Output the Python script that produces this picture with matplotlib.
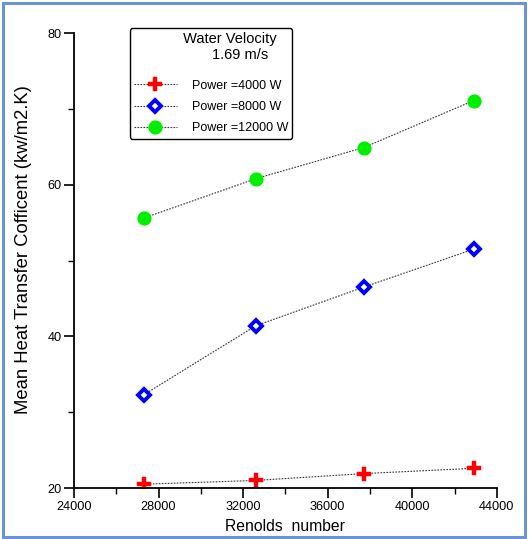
import matplotlib

matplotlib.use("Agg")
import matplotlib.pyplot as plt
from matplotlib.patches import Rectangle
from matplotlib.ticker import MultipleLocator

plt.rcParams["font.family"] = ["Liberation Sans", "DejaVu Sans"]

reynolds = [27300, 32600, 37700, 42900]
htc_4000 = [20.5, 21.0, 21.9, 22.6]
htc_8000 = [32.3, 41.4, 46.5, 51.5]
htc_12000 = [55.6, 60.8, 64.9, 71.1]
labels = ["Power =4000 W", "Power =8000 W", "Power =12000 W"]

fig = plt.figure(figsize=(5.32, 5.39), dpi=100)
ax = fig.add_axes([0.139, 0.0946, 0.795, 0.844])

line_kw = dict(color="#333333", linewidth=0.8, linestyle=(0, (1.5, 1.2)))

ax.plot(reynolds, htc_4000, marker="P", markersize=10, markerfacecolor="red",
        markeredgecolor="red", markeredgewidth=0.3, label=labels[0], **line_kw)
ax.plot(reynolds, htc_8000, marker="D", markersize=6, markerfacecolor="white",
        markeredgecolor="#0000ff", markeredgewidth=2.8, label=labels[1], **line_kw)
ax.plot(reynolds, htc_12000, marker="o", markersize=9.2, markerfacecolor="#00ee00",
        markeredgecolor="#00ee00", label=labels[2], **line_kw)

ax.set_xlim(24000, 44000)
ax.set_ylim(20, 80)
ax.xaxis.set_major_locator(MultipleLocator(4000))
ax.xaxis.set_minor_locator(MultipleLocator(2000))
ax.yaxis.set_major_locator(MultipleLocator(20))
ax.yaxis.set_minor_locator(MultipleLocator(10))

for side in ("top", "right"):
    ax.spines[side].set_visible(False)
for side in ("left", "bottom"):
    ax.spines[side].set_linewidth(1.3)

ax.tick_params(which="major", direction="out", length=7, width=1.2, labelsize=9.2, pad=2)
ax.tick_params(which="minor", direction="out", length=4, width=1.0)

ax.set_xlabel("Renolds  number", fontsize=11.3, labelpad=5)
ax.set_ylabel("Mean Heat Transfer Cofficent (kw/m2.K)", fontsize=13.3)
ax.yaxis.set_label_coords(-0.1, 0.525)

leg = ax.legend(
    title="         Water Velocity\n                1.69 m/s",
    loc="upper left",
    bbox_to_anchor=(0.132, 1.011),
    fontsize=9,
    title_fontsize=10.5,
    handlelength=3.4,
    handletextpad=1.2,
    labelspacing=0.75,
    borderpad=0.35,
    borderaxespad=0,
    fancybox=True,
    framealpha=1,
)
leg.get_frame().set_edgecolor("black")
leg.get_frame().set_linewidth(1.0)
leg.get_title().set_linespacing(1.1)
leg.get_title().set_multialignment("left")
# extra gap between the title and the entries
leg._legend_box.sep = 13

fig.patches.append(
    Rectangle((0.0056, 0.0037), 0.981, 0.991, transform=fig.transFigure,
              fill=False, edgecolor="#6a95d2", linewidth=2.2)
)

fig.savefig("out.png", dpi=100)
